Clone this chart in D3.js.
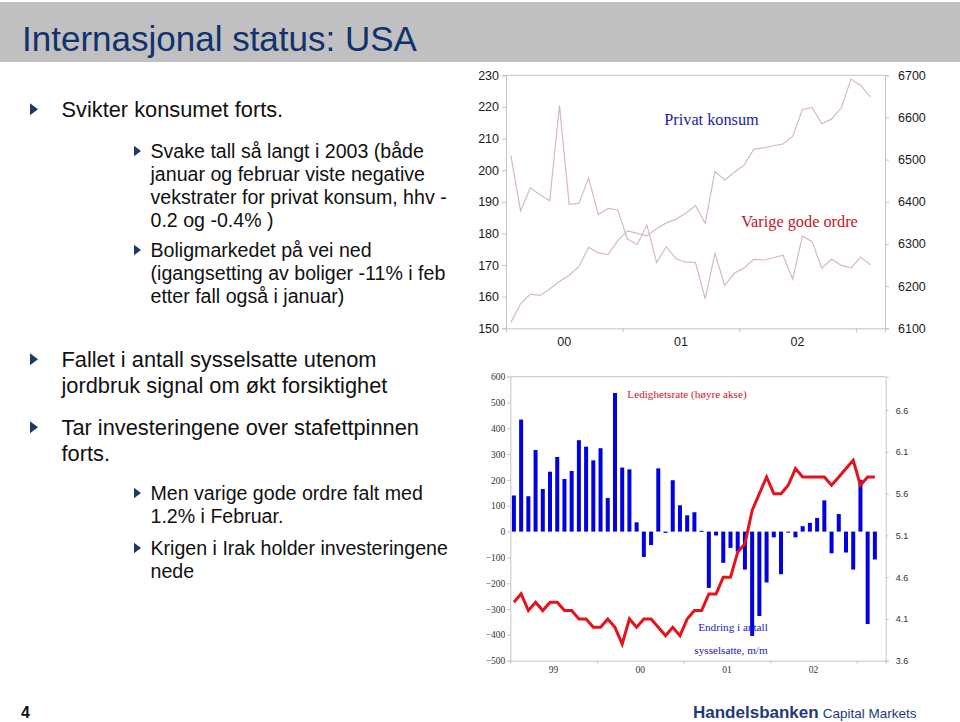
<!DOCTYPE html>
<html><head><meta charset="utf-8">
<script src="https://cdn.jsdelivr.net/npm/d3@7"></script>
<style>body{margin:0;background:#fff}svg{display:block}</style>
</head><body>
<svg id="c" width="960" height="722"></svg>
<script>
// ---------- DATA ----------
// Top chart: monthly, Jan 2000 - Feb 2003
const topYears = ["00", "01", "02"];
const durableOrders = [204.6,187.1,194.4,192.2,190.3,220.5,189.2,189.5,197.5,186.0,187.9,187.4,
  178.2,176.5,182.6,170.8,175.8,172.0,170.9,170.8,159.3,173.7,163.6,167.4,
  169.1,171.8,171.6,172.3,173.1,165.5,179.2,177.4,169.0,171.8,169.9,169.1,172.5,170.0];
const privateConsumption = [6114,6158,6181,6178,6193,6211,6226,6246,6292,6279,6275,6308,
  6331,6325,6319,6336,6350,6359,6373,6391,6349,6472,6452,6470,
  6487,6525,6528,6533,6537,6555,6619,6624,6585,6596,6623,6691,6676,6649];
const topLeftTicks = [150,160,170,180,190,200,210,220,230];
const topRightTicks = [6100,6200,6300,6400,6500,6600,6700];

// Bottom chart: monthly, Jan 1999 - Mar 2003
const bottomYears = ["99", "00", "01", "02"];
const employmentChange = [140,434,137,316,165,232,289,204,235,354,329,276,
  323,130,537,248,241,36,-98,-52,245,-5,199,102,
  63,75,3,-218,-15,-121,-63,-77,-147,-404,-327,-197,
  -22,-165,-4,-22,21,34,53,121,-84,68,-81,-147,
  201,-358,-108];
const unemploymentRate = [4.3,4.4,4.2,4.3,4.2,4.3,4.3,4.2,4.2,4.1,4.1,4.0,
  4.0,4.1,4.0,3.8,4.1,4.0,4.1,4.1,4.0,3.9,4.0,3.9,
  4.1,4.2,4.2,4.4,4.4,4.6,4.6,4.9,5.0,5.4,5.6,5.8,
  5.6,5.6,5.7,5.9,5.8,5.8,5.8,5.8,5.7,5.8,5.9,6.0,
  5.7,5.8,5.8];
const bottomLeftTicks = [-500,-400,-300,-200,-100,0,100,200,300,400,500,600];
const bottomRightTicks = [3.6,4.1,4.6,5.1,5.6,6.1,6.6];

// Text
const title = "Internasjonal status: USA";
const bullets = [
  {lvl:0, lines:["Svikter konsumet forts."], y:117},
  {lvl:1, lines:["Svake tall så langt i 2003 (både","januar og februar viste negative","vekstrater for privat konsum, hhv -","0.2 og -0.4% )"], y:158},
  {lvl:1, lines:["Boligmarkedet på vei ned","(igangsetting av boliger -11% i feb","etter fall også i januar)"], y:257},
  {lvl:0, lines:["Fallet i antall sysselsatte utenom","jordbruk signal om økt forsiktighet"], y:367},
  {lvl:0, lines:["Tar investeringene over stafettpinnen","forts."], y:435},
  {lvl:1, lines:["Men varige gode ordre falt med","1.2% i Februar."], y:500},
  {lvl:1, lines:["Krigen i Irak holder investeringene","nede"], y:555}
];

// ---------- DRAW ----------
const svg = d3.select("#c");
const sans = "'Liberation Sans', Arial, sans-serif";
const serif = "'Liberation Serif', 'Times New Roman', serif";

// title band
svg.append("rect").attr("x",0).attr("y",2).attr("width",960).attr("height",60).attr("fill","#c0c0c0");
svg.append("text").attr("x",22).attr("y",51).attr("font-family",sans).attr("font-size",35)
  .attr("fill","#10326e").text(title);

// bullets
bullets.forEach(b => {
  const fs = b.lvl === 0 ? 21.8 : 19.6;
  const lh = b.lvl === 0 ? 26 : 23;
  const tx = b.lvl === 0 ? 61.5 : 150.5;
  const bx = b.lvl === 0 ? 30 : 134;
  const ty = b.y - fs*0.36;
  const h = b.lvl === 0 ? 6 : 5.2, w = b.lvl === 0 ? 8 : 7;
  svg.append("path").attr("d",`M${bx},${ty-h}L${bx+w},${ty}L${bx},${ty+h}Z`).attr("fill","#1f3864");
  b.lines.forEach((l,i) => {
    svg.append("text").attr("x",tx).attr("y",b.y + i*lh).attr("font-family",sans)
      .attr("font-size",fs).attr("fill","#111").text(l);
  });
});

// footer
svg.append("text").attr("x",21).attr("y",718).attr("font-family",sans).attr("font-weight","bold")
  .attr("font-size",16).attr("fill","#111").text("4");
const ft = svg.append("text").attr("x",693).attr("y",718).attr("font-family",sans).attr("fill","#1f3a7a");
ft.append("tspan").attr("font-weight","bold").attr("font-size",17).text("Handelsbanken");
ft.append("tspan").attr("font-size",13.5).attr("dx",4).text("Capital Markets");

const gridCol = "#c4c4c4";

// ===== TOP CHART =====
const tL = 506, tR = 885, tT = 75.3, tB = 328.3;
const xT = d3.scaleLinear().domain([0,39]).range([tL,tR]);
const yTL = d3.scaleLinear().domain([150,230]).range([tB,tT]);
const yTR = d3.scaleLinear().domain([6100,6700]).range([tB,tT]);

const gTop = svg.append("g");
gTop.append("line").attr("x1",tL).attr("x2",tR).attr("y1",tT).attr("y2",tT).attr("stroke",gridCol);

const axL = gTop.append("g").attr("transform",`translate(${tL},0)`)
  .call(d3.axisLeft(yTL).tickValues(topLeftTicks).tickSize(4).tickPadding(3).tickFormat(d3.format("d")));
const axR = gTop.append("g").attr("transform",`translate(${tR},0)`)
  .call(d3.axisRight(yTR).tickValues(topRightTicks).tickSize(4).tickPadding(9).tickFormat(d3.format("d")));
const axB = gTop.append("g").attr("transform",`translate(0,${tB})`)
  .call(d3.axisBottom(xT).tickValues([0,12,24,36]).tickSize(4).tickFormat(""));
[axL,axR,axB].forEach(a => {
  a.select(".domain").attr("stroke",gridCol);
  a.selectAll(".tick line").attr("stroke",gridCol);
  a.selectAll("text").attr("font-family",sans).attr("font-size",12.5).attr("fill","#1a1a1a");
});
gTop.selectAll(".yrT").data(topYears).join("text")
  .attr("x",(d,i)=>xT(i*12+6)).attr("y",346).attr("text-anchor","middle")
  .attr("font-family",sans).attr("font-size",12.5).attr("fill","#1a1a1a").text(d=>d);

const lineCol = "#d6b9be";
gTop.append("path").datum(durableOrders)
  .attr("d", d3.line().x((d,i)=>xT(i+0.5)).y(d=>yTL(d)))
  .attr("fill","none").attr("stroke",lineCol).attr("stroke-width",1.2);
gTop.append("path").datum(privateConsumption)
  .attr("d", d3.line().x((d,i)=>xT(i+0.5)).y(d=>yTR(d)))
  .attr("fill","none").attr("stroke",lineCol).attr("stroke-width",1.2);

gTop.append("text").attr("x",711.5).attr("y",125).attr("text-anchor","middle")
  .attr("font-family",serif).attr("font-size",16.3).attr("fill","#1c1ca8").text("Privat konsum");
gTop.append("text").attr("x",799.5).attr("y",227).attr("text-anchor","middle")
  .attr("font-family",serif).attr("font-size",16.3).attr("fill","#c4142c").text("Varige gode ordre");

// ===== BOTTOM CHART =====
const bL = 510.3, bR = 885.7, bT = 376.7, bB = 660.7;
const xB = d3.scaleLinear().domain([0,52]).range([bL,bR]);
const yBL = d3.scaleLinear().domain([-500,600]).range([bB,bT]);
const yBR = d3.scaleLinear().domain([3.6,7.0]).range([bB,bT]);

const gB = svg.append("g");
gB.append("line").attr("x1",bL).attr("x2",bR).attr("y1",bT).attr("y2",bT).attr("stroke",gridCol);
const bxL = gB.append("g").attr("transform",`translate(${bL},0)`)
  .call(d3.axisLeft(yBL).tickValues(bottomLeftTicks).tickSize(3).tickPadding(2).tickFormat(d3.format("d")));
const bxR = gB.append("g").attr("transform",`translate(${bR},0)`)
  .call(d3.axisRight(yBR).tickValues(bottomRightTicks).tickSize(3).tickPadding(7).tickFormat(d3.format(".1f")));
const bxB = gB.append("g").attr("transform",`translate(0,${bB})`)
  .call(d3.axisBottom(xB).tickValues([12,24,36,48]).tickSize(3).tickFormat(""));
[bxL,bxR,bxB].forEach(a => {
  a.select(".domain").attr("stroke",gridCol);
  a.selectAll(".tick line").attr("stroke",gridCol);
});
bxL.selectAll("text").attr("font-family",serif).attr("font-size",9.5).attr("fill","#333");
bxR.selectAll("text").attr("font-family",sans).attr("font-size",9).attr("fill","#333");
gB.selectAll(".yrB").data(bottomYears).join("text")
  .attr("x",(d,i)=>xB(i*12+6)).attr("y",673).attr("text-anchor","middle")
  .attr("font-family",serif).attr("font-size",9.5).attr("fill","#333").text(d=>d);

// labels (under bars)
gB.append("text").attr("x",687).attr("y",398).attr("text-anchor","middle")
  .attr("font-family",serif).attr("font-size",11.2).attr("fill","#d8141c").text("Ledighetsrate (høyre akse)");
gB.append("text").attr("x",733).attr("y",631).attr("text-anchor","middle")
  .attr("font-family",serif).attr("font-size",11.2).attr("fill","#2020b0").text("Endring i antall");
gB.append("text").attr("x",731).attr("y",654).attr("text-anchor","middle")
  .attr("font-family",serif).attr("font-size",11.2).attr("fill","#2020b0").text("sysselsatte, m/m");

const bw = 4;
gB.selectAll(".bar").data(employmentChange).join("rect")
  .attr("x",(d,i)=>xB(i+0.5)-bw/2).attr("width",bw)
  .attr("y",d=>yBL(Math.max(0,d))).attr("height",d=>Math.max(1,Math.abs(yBL(d)-yBL(0))))
  .attr("fill","#0000e0");

gB.append("path").datum(unemploymentRate)
  .attr("d", d3.line().x((d,i)=>xB(i+0.5)).y(d=>yBR(d)))
  .attr("fill","none").attr("stroke","#e5121a").attr("stroke-width",3).attr("stroke-linejoin","miter");
</script>
</body></html>
